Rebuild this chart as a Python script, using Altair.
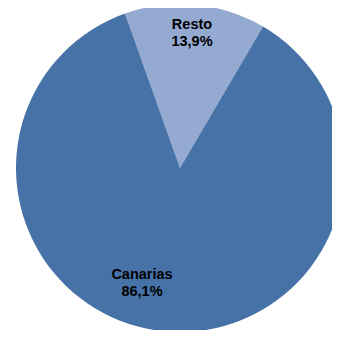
import altair as alt
import pandas as pd
import math

categories = ["Resto", "Canarias"]
values = [13.9, 86.1]
labels = ["13,9%", "86,1%"]
colors = ["#95AAD0", "#4672A8"]

df = pd.DataFrame({"cat": categories, "val": values, "ord": [0, 1],
                   "lab": [[c, l] for c, l in zip(categories, labels)]})

start = -19.6 * math.pi / 180
cx, cy = 172, 160

pie = alt.Chart(df).mark_arc(stroke=None).encode(
    theta=alt.Theta("val:Q", stack=True, scale=alt.Scale(range=[start, start + 2 * math.pi])),
    color=alt.Color("cat:N", scale=alt.Scale(domain=categories, range=colors), legend=None),
    order=alt.Order("ord:Q"),
    radius=alt.value(164),
    x=alt.value(cx), y=alt.value(cy),
)

lab_x = [184, 134]
lab_y = [21.3, 271.3]
texts = []
for i in range(2):
    t = alt.Chart(df.iloc[[i]]).mark_text(
        font="Liberation Sans", fontWeight="bold", fontSize=14.5, lineHeight=17,
        baseline="alphabetic", align="center", color="black",
    ).encode(text="lab", x=alt.value(lab_x[i]), y=alt.value(lab_y[i]))
    texts.append(t)

chart = alt.layer(pie, *texts).properties(
    width=324, height=322, padding=0, autosize="none"
).configure_view(stroke=None)

chart.save("out.html", embed_options={"renderer": "svg", "actions": False})
